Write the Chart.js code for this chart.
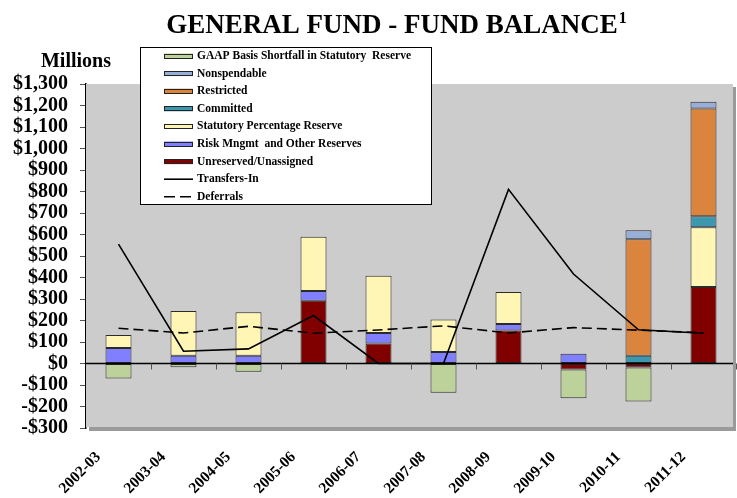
<!DOCTYPE html>
<html>
<head>
<meta charset="utf-8">
<script src="https://cdn.jsdelivr.net/npm/chart.js@4.4.0/dist/chart.umd.min.js"></script>
<style>
    html, body { margin: 0; padding: 0; background: #ffffff; }
    #wrap { position: relative; width: 737px; height: 498px; }
</style>
</head>
<body>
<div id="wrap"><canvas id="fundChart"></canvas></div>
<script>
    'use strict';

    var fiscalYears = ['2002-03', '2003-04', '2004-05', '2005-06', '2006-07', '2007-08', '2008-09', '2009-10', '2010-11', '2011-12'];

    // millions of dollars
    var unreserved = [null, null, null, 292, 93, null, 153, -28, -19, 356];
    var riskReserves = [72, 36, 36, 45, 49, 54, 31, 45, null, null];
    var statutoryReserve = [61, 208, 202, 252, 266, 151, 149, null, null, 278];
    var committed = [null, null, null, null, null, null, null, null, 36, 51];
    var restricted = [null, null, null, null, null, null, null, null, 542, 501];
    var nonspendable = [null, null, null, null, null, null, null, null, 42, 32];
    var gaapShortfall = [-70, -18, -38, null, null, -136, null, -134, -158, null];
    var transfersIn = [555, 57, 68, 223, 0, 0, 810, 416, 157, 141];
    var deferrals = [164, 142, 173, 141, 156, 175, 142, 167, 155, 143];

    var yTickMin = -300;
    var yTickMax = 1300;
    var yTickStep = 100;

    var serif = "'Liberation Serif', 'Times New Roman', serif";

    function barSet(label, data, color) {
        return {
            type: 'bar',
            label: label,
            data: data,
            backgroundColor: color,
            borderColor: '#2b2b2b',
            borderWidth: 1,
            borderSkipped: false,
            stack: 'balance',
            order: 1,
            barPercentage: 0.4,
            categoryPercentage: 1
        };
    }

    function lineSet(label, data, dash) {
        return {
            type: 'line',
            label: label,
            data: data,
            borderColor: '#000000',
            borderWidth: 1.6,
            borderDash: dash,
            pointRadius: 0,
            tension: 0,
            fill: false,
            stack: label,
            order: 0
        };
    }

    var barSets = [
        barSet('Unreserved/Unassigned', unreserved, '#800000'),
        barSet('Risk Mngmt  and Other Reserves', riskReserves, '#8080ff'),
        barSet('Statutory Percentage Reserve', statutoryReserve, '#fff5b5'),
        barSet('Committed', committed, '#3b98ae'),
        barSet('Restricted', restricted, '#db843d'),
        barSet('Nonspendable', nonspendable, '#98aed6'),
        barSet('GAAP Basis Shortfall in Statutory  Reserve', gaapShortfall, '#bdd19a')
    ];

    var lineSets = [
        lineSet('Transfers-In', transfersIn, []),
        lineSet('Deferrals', deferrals, [10, 5])
    ];

    var frame = {
        id: 'fundFrame',
        beforeDatasetsDraw: function (chart) {
            var a = chart.chartArea;
            var ctx = chart.ctx;
            ctx.save();
            ctx.fillStyle = '#9a9a9a';
            ctx.fillRect(a.left + 3, a.bottom - 1, a.right - a.left - 3, 4);
            ctx.fillRect(a.right - 3, a.top + 3, 3, a.bottom - a.top);
            ctx.fillStyle = '#cccccc';
            ctx.fillRect(a.left, a.top, a.right - a.left - 3, a.bottom - a.top - 1);
            ctx.restore();
        },
        afterDatasetsDraw: function (chart) {
            var a = chart.chartArea;
            var ctx = chart.ctx;
            var x = chart.scales.x;
            var zero = chart.scales.y.getPixelForValue(0);
            ctx.save();
            ctx.strokeStyle = '#000000';
            ctx.lineWidth = 1.3;
            ctx.beginPath();
            ctx.moveTo(a.left, zero);
            ctx.lineTo(a.right - 3, zero);
            ctx.stroke();
            ctx.strokeStyle = '#555555';
            ctx.lineWidth = 1;
            for (var i = 0; i < fiscalYears.length; i++) {
                var bx = Math.round(x.getPixelForValue(i + 0.5)) + 0.5;
                ctx.beginPath();
                ctx.moveTo(bx, zero);
                ctx.lineTo(bx, zero + 6);
                ctx.stroke();
            }
            ctx.restore();
        },
        afterDraw: function (chart) {
            var ctx = chart.ctx;
            ctx.save();

            // title with superscript
            var main = 'GENERAL FUND - FUND BALANCE';
            ctx.fillStyle = '#000000';
            ctx.textBaseline = 'alphabetic';
            ctx.textAlign = 'left';
            ctx.font = 'bold 27px ' + serif;
            var mainW = ctx.measureText(main).width;
            ctx.font = 'bold 16px ' + serif;
            var supW = ctx.measureText('1').width;
            var startX = 396 - (mainW + supW) / 2;
            ctx.font = 'bold 27px ' + serif;
            ctx.fillText(main, startX, 33);
            ctx.font = 'bold 16px ' + serif;
            ctx.fillText('1', startX + mainW + 1, 23);

            ctx.font = 'bold 20px ' + serif;
            ctx.textAlign = 'center';
            ctx.fillText('Millions', 76, 67);

            // legend box
            var left = 140, top = 47, right = 432, bottom = 205;
            ctx.fillStyle = '#ffffff';
            ctx.fillRect(left, top, right - left, bottom - top);
            ctx.strokeStyle = '#000000';
            ctx.lineWidth = 1;
            ctx.strokeRect(left + 0.5, top + 0.5, right - left - 1, bottom - top - 1);

            var items = barSets.slice().reverse().concat(lineSets);
            ctx.font = 'bold 11.5px ' + serif;
            ctx.textAlign = 'left';
            ctx.textBaseline = 'middle';
            items.forEach(function (ds, i) {
                var cy = 56 + i * 17.6;
                if (ds.type === 'bar') {
                    ctx.fillStyle = ds.backgroundColor;
                    ctx.fillRect(164, cy - 2.5, 29, 5);
                    ctx.strokeStyle = '#222222';
                    ctx.strokeRect(164.5, Math.round(cy - 2.5) + 0.5, 28, 4);
                } else {
                    ctx.strokeStyle = '#000000';
                    ctx.lineWidth = 1.6;
                    ctx.setLineDash(ds.borderDash.length ? [11, 5] : []);
                    ctx.beginPath();
                    ctx.moveTo(164, cy);
                    ctx.lineTo(193, cy);
                    ctx.stroke();
                    ctx.setLineDash([]);
                    ctx.lineWidth = 1;
                }
                ctx.fillStyle = '#000000';
                ctx.fillText(ds.label, 197, cy);
            });

            ctx.restore();
        }
    };

    new Chart(document.getElementById('fundChart'), {
        data: {
            labels: fiscalYears,
            datasets: barSets.concat(lineSets)
        },
        options: {
            responsive: true,
            maintainAspectRatio: false,
            animation: false,
            layout: { padding: { top: 84, right: 1, left: 0, bottom: 0 } },
            plugins: {
                legend: { display: false },
                tooltip: { enabled: false },
                title: { display: false }
            },
            scales: {
                x: {
                    stacked: true,
                    offset: true,
                    grid: { display: false },
                    border: { display: false },
                    afterFit: function (scale) { scale.height = 70; },
                    ticks: {
                        autoSkip: false,
                        maxRotation: 45,
                        minRotation: 45,
                        color: '#000000',
                        padding: 12,
                        labelOffset: -20,
                        font: { family: serif, size: 15.5, weight: 'bold' }
                    }
                },
                y: {
                    stacked: true,
                    min: yTickMin,
                    max: yTickMax,
                    afterFit: function (scale) { scale.width = 86; },
                    grid: {
                        drawOnChartArea: false,
                        drawTicks: true,
                        tickLength: 6,
                        color: '#555555'
                    },
                    border: { display: true, color: '#000000', width: 1.5 },
                    ticks: {
                        stepSize: yTickStep,
                        autoSkip: false,
                        padding: 12,
                        color: '#000000',
                        font: { family: serif, size: 20, weight: 'bold' },
                        callback: function (value) {
                            var s = '$' + Math.abs(value).toLocaleString('en-US');
                            return value < 0 ? '-' + s : s;
                        }
                    }
                }
            }
        },
        plugins: [frame]
    });
</script>
</body>
</html>
